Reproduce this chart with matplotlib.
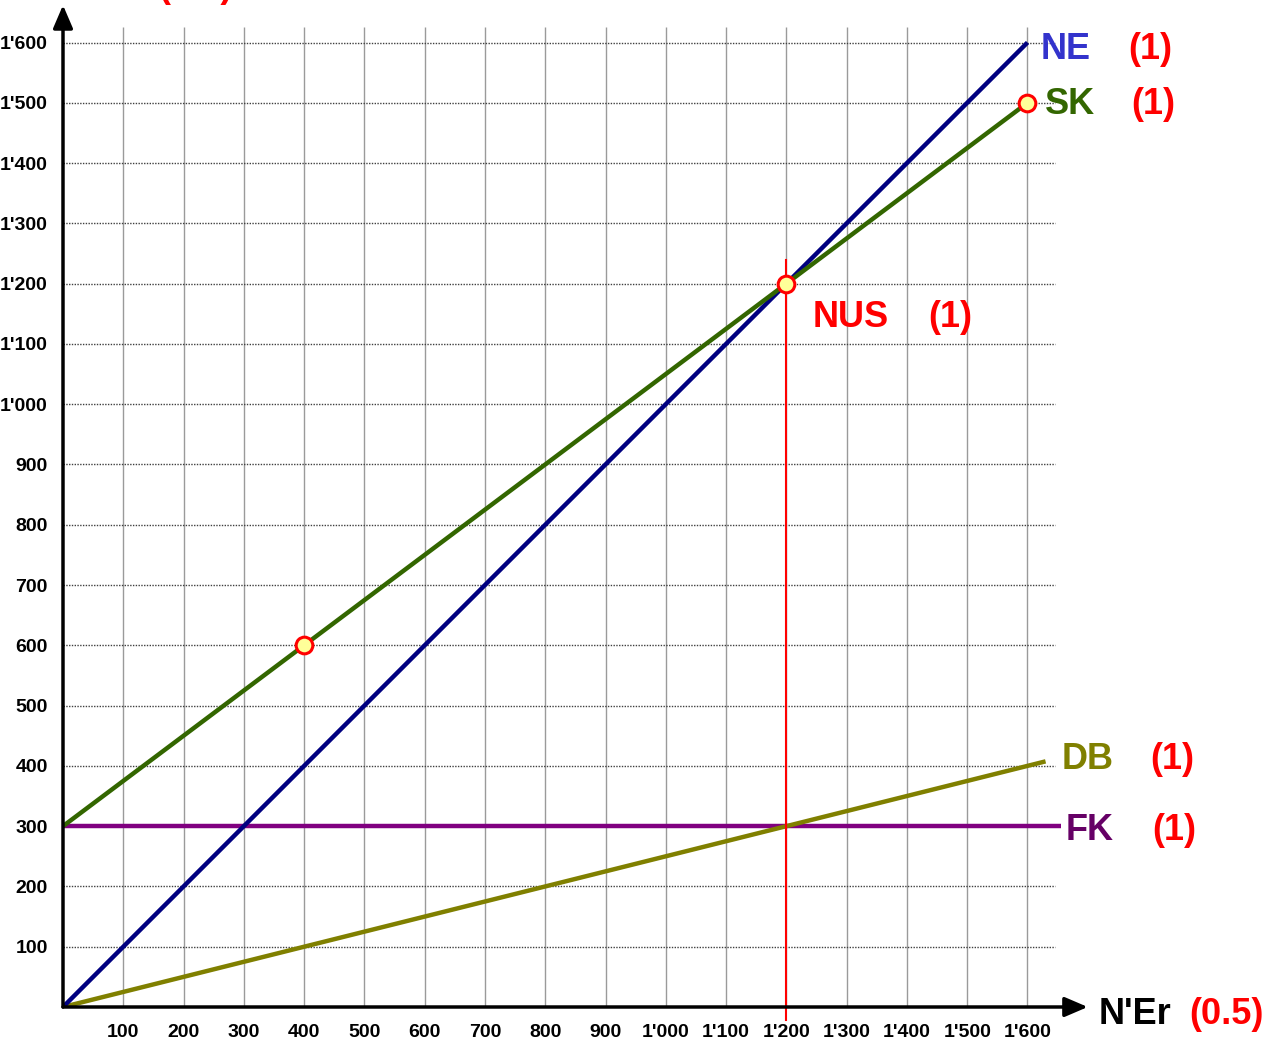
import matplotlib
matplotlib.use("Agg")
import matplotlib.pyplot as plt
import numpy as np

# data
ne_x = [0, 1600]
ne_y = [0, 1600]
sk_x = [0, 1600]
sk_y = [300, 1500]
db_x = [0, 1630]
db_y = [0, 407.5]
fk_x = [0, 1655]
fk_y = [300, 300]
nus_x = 1200
nus_y = [-22, 1240]
pts_x = [400, 1200, 1600]
pts_y = [600, 1200, 1500]
ticks = list(range(100, 1700, 100))
tick_labels = [f"{t:,}".replace(",", "'") for t in ticks]

W, H = 1275, 1042
s = 0.6028          # pixels per data unit
x0, y0 = 63, 1007   # pixel position of the origin (from top)
xmax, ymax = 1720, 1670

fig = plt.figure(figsize=(W / 100, H / 100), dpi=100)
ax = fig.add_axes([x0 / W, (H - y0) / H, xmax * s / W, ymax * s / H])
ax.set_xlim(0, xmax)
ax.set_ylim(0, ymax)
for sp in ax.spines.values():
    sp.set_visible(False)

# grid
ax.vlines(ticks, 0, 1625, colors="#9a9a9a", lw=1, zorder=1)
ax.hlines(ticks, 0, 1645, colors="#404040", lw=1, linestyles=(0, (1, 1)), zorder=1)

# axes arrows
arrow = dict(arrowstyle="-|>,head_length=0.7,head_width=0.3", lw=2.5, color="black",
             mutation_scale=20, shrinkA=0, shrinkB=0)
ax.annotate("", xy=(1700, 0), xytext=(0, 0), arrowprops=arrow, annotation_clip=False, zorder=5)
ax.annotate("", xy=(0, 1662), xytext=(0, 0), arrowprops=arrow, annotation_clip=False, zorder=5)

# lines
ax.plot(fk_x, fk_y, color="#800080", lw=3.2, zorder=3, solid_capstyle="butt")
ax.plot(db_x, db_y, color="#808000", lw=3.2, zorder=3, solid_capstyle="butt")
ax.plot(ne_x, ne_y, color="#000080", lw=3.2, zorder=3, solid_capstyle="butt")
ax.plot(sk_x, sk_y, color="#336600", lw=3.2, zorder=4, solid_capstyle="butt")
ax.plot([nus_x, nus_x], nus_y, color="red", lw=1.5, zorder=4, clip_on=False)
ax.plot(pts_x, pts_y, "o", ms=12, mfc="#ffff99", mec="red", mew=2.2, zorder=6)

# ticks
tick_font = dict(family="Liberation Sans", weight="bold", size=14)
ax.set_xticks(ticks)
ax.set_xticklabels(tick_labels, **tick_font)
ax.set_yticks(ticks)
ax.set_yticklabels(tick_labels, **tick_font)
ax.tick_params(axis="x", length=0, pad=12)
ax.tick_params(axis="y", length=0, pad=11)

# labels
lab = dict(family="Liberation Sans", weight="bold", size=26, va="center", clip_on=False)
ax.text(1621, 1588, "NE", color="#3333cc", **lab)
ax.text(1767, 1588, "(1)", color="red", **lab)
ax.text(1629, 1497, "SK", color="#336600", **lab)
ax.text(1772, 1497, "(1)", color="red", **lab)
ax.text(1244, 1144, "NUS", color="red", **lab)
ax.text(1435, 1144, "(1)", color="red", **lab)
ax.text(1657, 410, "DB", color="#808000", **lab)
ax.text(1803, 410, "(1)", color="red", **lab)
ax.text(1664, 292, "FK", color="#660066", **lab)
ax.text(1807, 292, "(1)", color="red", **lab)
ax.text(1718, -13, "N'Er", color="black", **lab)
ax.text(1868, -13, "(0.5)", color="red", **lab)

# y-axis label, cut off at the top of the picture (as in the original)
fig.text(158 / W, (H - 5) / H, "(0.5)", color="red", family="Liberation Sans",
         weight="bold", size=26, va="bottom")

fig.savefig("out.png", dpi=100)
